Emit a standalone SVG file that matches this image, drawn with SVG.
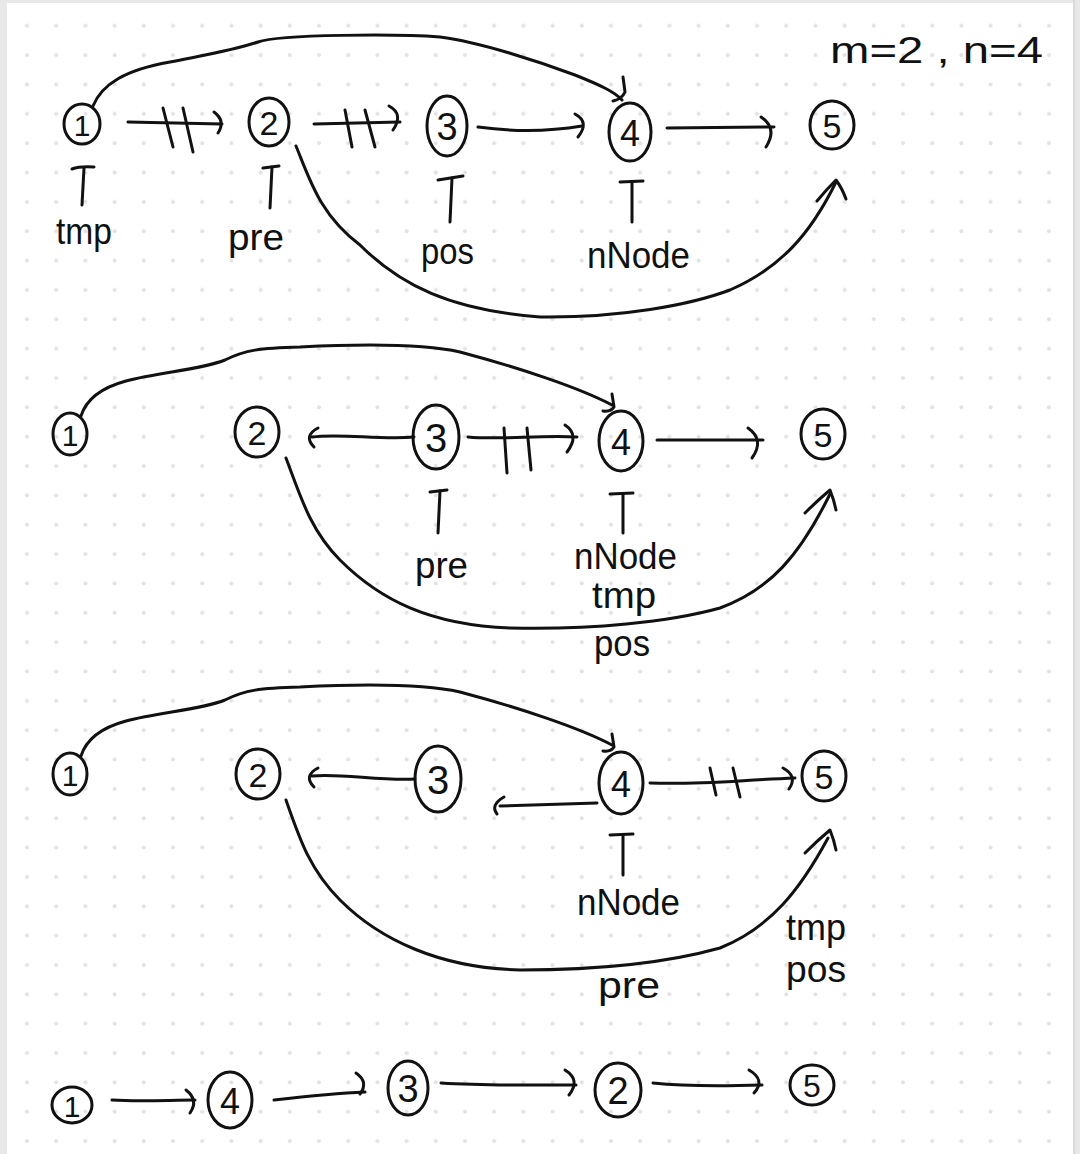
<svg xmlns="http://www.w3.org/2000/svg" width="1080" height="1154" viewBox="0 0 1080 1154">
<defs>
<pattern id="dots" patternUnits="userSpaceOnUse" x="0" y="0" width="29.2" height="29.35">
<circle cx="27" cy="25.8" r="2" fill="#e2e2e2"/>
</pattern>
<style>
.s{fill:none;stroke:#111;stroke-width:3;stroke-linecap:round;stroke-linejoin:round}
.n ellipse{fill:none;stroke:#111;stroke-width:3}
.n text{font-family:"Liberation Sans",sans-serif;fill:#111;text-anchor:middle}
.l{font-family:"Liberation Sans",sans-serif;font-size:36px;fill:#111}
</style>
</defs>
<rect width="1080" height="1154" fill="#e8e8e8"/>
<rect x="7" y="3" width="1066" height="1151" fill="#ffffff"/>
<rect x="7" y="3" width="1066" height="1151" fill="url(#dots)"/>
<line x1="1074" y1="0" x2="1074" y2="1154" stroke="#d4d4d4" stroke-width="1.5"/>

<text class="l" x="830" y="63" font-size="40" textLength="213" lengthAdjust="spacingAndGlyphs">m=2 , n=4</text>

<!-- Section 1 nodes -->
<g id="s1-n1" class="n"><ellipse cx="82" cy="124" rx="18" ry="20"/><text x="82" y="136" font-size="30">1</text></g>
<g id="s1-n2" class="n"><ellipse cx="269" cy="122" rx="20" ry="24"/><text x="269" y="135" font-size="34">2</text></g>
<g id="s1-n3" class="n"><ellipse cx="447" cy="126" rx="20" ry="30"/><text x="447" y="140" font-size="38">3</text></g>
<g id="s1-n4" class="n"><ellipse cx="630" cy="132" rx="21" ry="29"/><text x="630" y="146" font-size="36">4</text></g>
<g id="s1-n5" class="n"><ellipse cx="832" cy="125" rx="22" ry="24"/><text x="832" y="138" font-size="34">5</text></g>

<!-- Section 2 nodes -->
<g id="s2-n1" class="n"><ellipse cx="70" cy="434" rx="17" ry="21"/><text x="70" y="446" font-size="30">1</text></g>
<g id="s2-n2" class="n"><ellipse cx="257" cy="432" rx="22" ry="25"/><text x="257" y="445" font-size="34">2</text></g>
<g id="s2-n3" class="n"><ellipse cx="436" cy="437" rx="23" ry="32"/><text x="436" y="452" font-size="40">3</text></g>
<g id="s2-n4" class="n"><ellipse cx="621" cy="441" rx="22" ry="30"/><text x="621" y="455" font-size="36">4</text></g>
<g id="s2-n5" class="n"><ellipse cx="823" cy="434" rx="22" ry="25"/><text x="823" y="447" font-size="34">5</text></g>

<!-- Section 3 nodes -->
<g id="s3-n1" class="n"><ellipse cx="70" cy="774" rx="17" ry="21"/><text x="70" y="786" font-size="30">1</text></g>
<g id="s3-n2" class="n"><ellipse cx="258" cy="774" rx="22" ry="25"/><text x="258" y="787" font-size="34">2</text></g>
<g id="s3-n3" class="n"><ellipse cx="438" cy="779" rx="23" ry="33"/><text x="438" y="794" font-size="40">3</text></g>
<g id="s3-n4" class="n"><ellipse cx="621" cy="783" rx="22" ry="31"/><text x="621" y="797" font-size="36">4</text></g>
<g id="s3-n5" class="n"><ellipse cx="824" cy="776" rx="22" ry="25"/><text x="824" y="789" font-size="34">5</text></g>

<!-- Section 4 nodes -->
<g id="s4-n1" class="n"><ellipse cx="72" cy="1105" rx="20" ry="18"/><text x="72" y="1117" font-size="30">1</text></g>
<g id="s4-n4" class="n"><ellipse cx="230" cy="1100" rx="22" ry="28"/><text x="230" y="1114" font-size="36">4</text></g>
<g id="s4-n3" class="n"><ellipse cx="408" cy="1088" rx="20" ry="27"/><text x="408" y="1102" font-size="38">3</text></g>
<g id="s4-n2" class="n"><ellipse cx="618" cy="1090" rx="23" ry="27"/><text x="618" y="1104" font-size="38">2</text></g>
<g id="s4-n5" class="n"><ellipse cx="812" cy="1085" rx="22" ry="20"/><text x="812" y="1097" font-size="32">5</text></g>

<!-- labels -->
<g id="labels">
<text class="l" x="56" y="244" textLength="56" lengthAdjust="spacingAndGlyphs">tmp</text>
<text class="l" x="228" y="250" textLength="56" lengthAdjust="spacingAndGlyphs">pre</text>
<text class="l" x="421" y="264" textLength="53" lengthAdjust="spacingAndGlyphs">pos</text>
<text class="l" x="587" y="268" textLength="103" lengthAdjust="spacingAndGlyphs">nNode</text>

<text class="l" x="415" y="578" textLength="53" lengthAdjust="spacingAndGlyphs">pre</text>
<text class="l" x="574" y="569" font-size="34" textLength="103" lengthAdjust="spacingAndGlyphs">nNode</text>
<text class="l" x="592" y="608" font-size="26" textLength="64" lengthAdjust="spacingAndGlyphs">tmp</text>
<text class="l" x="594" y="656" textLength="56" lengthAdjust="spacingAndGlyphs">pos</text>

<text class="l" x="577" y="915" textLength="103" lengthAdjust="spacingAndGlyphs">nNode</text>
<text class="l" x="786" y="940" font-size="32" textLength="60" lengthAdjust="spacingAndGlyphs">tmp</text>
<text class="l" x="786" y="982" textLength="60" lengthAdjust="spacingAndGlyphs">pos</text>
<text class="l" x="598" y="998" font-size="40" textLength="62" lengthAdjust="spacingAndGlyphs">pre</text>
</g>

<g id="connectors" class="s">
<!-- Section 1 -->
<path d="M93,106 C102,84 125,70 170,62 C210,54 235,50 258,42 C280,34 400,34 440,37 C480,42 540,62 575,75 C600,85 615,92 622,100"/>
<path d="M623,77 L625,92 Q622,99 613,101"/>
<path d="M296,146 C310,180 320,215 360,245 C400,285 450,310 540,317 C620,318 690,305 730,290 C780,268 810,235 836,182"/>
<path d="M817,201 Q826,190 836,180 Q842,188 846,199"/>
<path d="M128,122 L222,124"/><path d="M214,112 Q226,121 218,133"/>
<path d="M163,108 L173,147"/><path d="M183,108 L193,152"/>
<path d="M314,124 L400,122"/><path d="M389,106 Q404,114 393,130"/>
<path d="M345,110 L352,147"/><path d="M365,110 L375,147"/>
<path d="M478,127 C500,130 540,133 582,126"/><path d="M575,114 Q590,122 578,137"/>
<path d="M667,128 L774,127"/><path d="M761,117 Q778,128 766,147"/>
<path d="M72,169 Q80,166 94,167"/><path d="M84,168 L82,205"/>
<path d="M263,168 L279,166"/><path d="M272,167 L270,208"/>
<path d="M438,180 L463,176"/><path d="M452,178 L450,222"/>
<path d="M620,182 L643,181"/><path d="M632,182 L632,222"/>

<!-- Section 2 -->
<path d="M81,416 C86,400 100,388 126,381 C160,372 200,370 225,360 C245,350 260,348 300,347 C360,344 420,343 460,352 C520,368 580,388 612,405"/>
<path d="M612,394 L614,407 Q611,412 603,411"/>
<path d="M414,437 C380,440 340,433 312,437"/><path d="M318,428 Q303,436 314,447"/>
<path d="M468,437 C500,440 540,435 577,437"/><path d="M565,425 Q580,435 567,452"/>
<path d="M504,428 L507,473"/><path d="M527,428 L531,470"/>
<path d="M657,440 L763,440"/><path d="M748,428 Q765,440 752,458"/>
<path d="M430,492 L447,490"/><path d="M440,491 L438,533"/>
<path d="M610,494 L633,493"/><path d="M623,494 L623,533"/>
<path d="M286,458 C300,495 310,530 340,560 C380,600 430,625 510,628 C590,630 670,622 720,608 C770,590 800,555 830,494"/>
<path d="M805,513 Q818,500 830,490 Q834,500 836,510"/>

<!-- Section 3 -->
<path d="M81,756 C86,740 100,728 126,721 C160,712 200,710 225,700 C245,690 260,688 300,687 C360,684 420,683 460,692 C520,708 580,728 612,745"/>
<path d="M612,734 L614,747 Q611,752 603,751"/>
<path d="M415,779 C380,781 340,773 312,776"/><path d="M318,768 Q303,776 314,787"/>
<path d="M597,803 L500,806"/><path d="M504,797 Q490,805 497,814"/>
<path d="M650,783 C700,785 740,780 795,778"/><path d="M783,768 Q798,776 789,789"/>
<path d="M710,768 L716,795"/><path d="M733,768 L740,797"/>
<path d="M610,835 L633,834"/><path d="M623,835 L623,875"/>
<path d="M286,800 C300,840 310,870 340,900 C380,940 440,968 520,970 C600,970 670,962 720,948 C770,928 800,890 828,838"/>
<path d="M805,853 Q818,840 830,830 Q834,840 836,850"/>

<!-- Section 4 -->
<path d="M112,1100 C140,1102 170,1100 195,1100"/><path d="M186,1090 Q199,1100 190,1113"/>
<path d="M274,1100 C300,1097 340,1093 365,1092"/><path d="M356,1073 Q369,1082 360,1094"/>
<path d="M441,1083 C490,1086 540,1085 576,1085"/><path d="M565,1070 Q581,1080 569,1095"/>
<path d="M653,1083 C690,1087 730,1086 762,1085"/><path d="M749,1070 Q766,1080 754,1093"/>
</g>
</svg>
